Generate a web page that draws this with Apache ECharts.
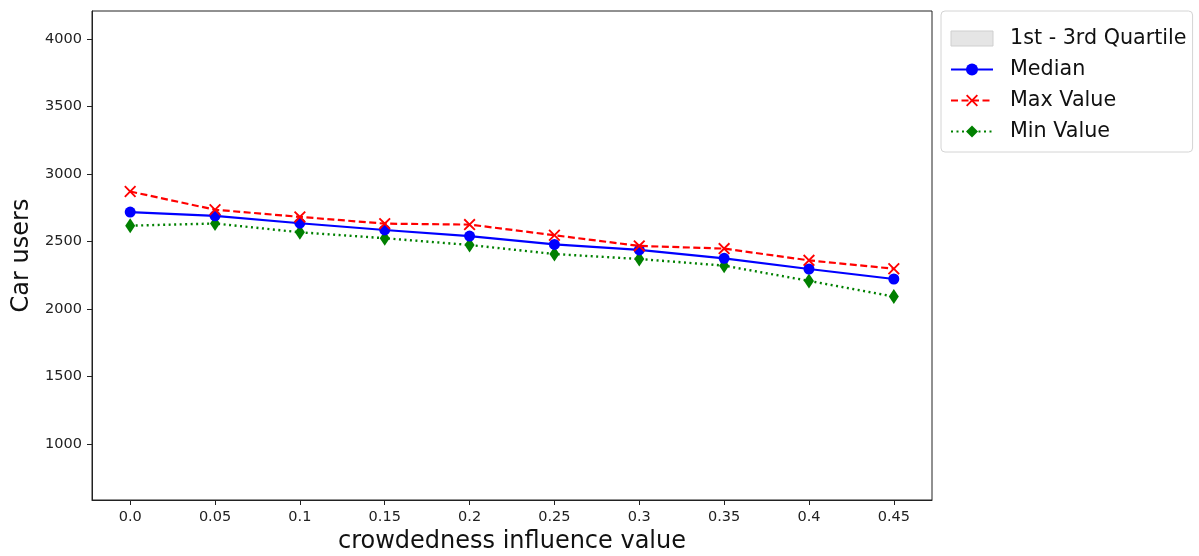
<!DOCTYPE html>
<html>
<head>
<meta charset="utf-8">
<script src="https://cdn.jsdelivr.net/npm/echarts@6/dist/echarts.min.js"></script>
<style>
  html, body { margin: 0; padding: 0; background: #fff; }
  #chart { width: 1199px; height: 556px; }
</style>
</head>
<body>
<div id="chart"></div>
<script>
// x ticks (crowdedness influence value)
var xLabels = ["0.0", "0.05", "0.1", "0.15", "0.2", "0.25", "0.3", "0.35", "0.4", "0.45"];
var yTicks = [1000, 1500, 2000, 2500, 3000, 3500, 4000];

var medianVals = [2718, 2690, 2635, 2585, 2540, 2478, 2437, 2375, 2296, 2222];
var maxVals = [2870, 2735, 2682, 2632, 2625, 2546, 2467, 2447, 2360, 2298];
var minVals = [2617, 2633, 2568, 2524, 2474, 2407, 2370, 2321, 2208, 2092];
var q1Vals = [2710, 2682, 2626, 2577, 2531, 2470, 2430, 2368, 2289, 2216];
var q3Vals = [2735, 2705, 2650, 2600, 2556, 2492, 2452, 2390, 2310, 2234];

var chart = echarts.init(document.getElementById("chart"));

function pts(arr) {
  return arr.map(function (v, i) { return [i, v]; });
}
var bandLow = pts(q1Vals);
var bandSpan = q3Vals.map(function (v, i) { return [i, v - q1Vals[i]]; });

var crossPath = "path://M0,1.1L1.1,0L5,3.9L8.9,0L10,1.1L6.1,5L10,8.9L8.9,10L5,6.1L1.1,10L0,8.9L3.9,5Z";
var fontFam = "DejaVu Sans";

var option = {
  animation: false,
  backgroundColor: "#fff",
  textStyle: { fontFamily: fontFam },
  grid: {
    left: 92,
    top: 11,
    right: 267,
    bottom: 56,
    outerBoundsMode: "none",
    containLabel: false,
    show: true,
    borderColor: "#222",
    borderWidth: 1
  },
  legend: {
    orient: "vertical",
    left: 941,
    top: 11,
    padding: [17, 6, 10, 9],
    itemGap: 10,
    itemWidth: 42,
    itemHeight: 15,
    borderColor: "#d4d4d4",
    borderWidth: 1,
    borderRadius: 4,
    textStyle: { fontSize: 20.7, color: "#111", padding: [0, 0, 0, 12], fontFamily: fontFam },
    data: [
      { name: "1st - 3rd Quartile", icon: "rect", itemStyle: { color: "#e5e5e5", borderColor: "#cfcfcf", borderWidth: 1 } },
      { name: "Median" },
      { name: "Max Value" },
      { name: "Min Value" }
    ]
  },
  xAxis: {
    type: "value",
    min: -0.45,
    max: 9.45,
    name: "crowdedness influence value",
    nameLocation: "middle",
    nameGap: 30,
    nameTextStyle: { fontSize: 24, color: "#111" },
    splitLine: { show: false },
    axisLine: { show: true, onZero: false, lineStyle: { color: "#222", width: 1 } },
    axisTick: { show: true, length: 5, lineStyle: { color: "#222" }, customValues: [0, 1, 2, 3, 4, 5, 6, 7, 8, 9] },
    axisLabel: {
      fontSize: 14.5,
      color: "#222",
      margin: 10,
      customValues: [0, 1, 2, 3, 4, 5, 6, 7, 8, 9],
      formatter: function (v) { return xLabels[Math.round(v)]; }
    }
  },
  yAxis: {
    type: "value",
    min: 585,
    max: 4207,
    name: "Car users",
    nameLocation: "middle",
    nameGap: 52,
    nameTextStyle: { fontSize: 24, color: "#111" },
    splitLine: { show: false },
    axisLine: { show: true, onZero: false, lineStyle: { color: "#222", width: 1 } },
    axisTick: { show: true, length: 5, lineStyle: { color: "#222" }, customValues: yTicks },
    axisLabel: {
      fontSize: 14.5,
      color: "#222",
      margin: 10,
      customValues: yTicks,
      formatter: function (v) { return String(v); }
    }
  },
  series: [
    {
      name: "bandBase",
      type: "line",
      stack: "band",
      data: bandLow,
      symbol: "none",
      lineStyle: { opacity: 0 },
      silent: true,
      z: 1
    },
    {
      name: "1st - 3rd Quartile",
      type: "line",
      stack: "band",
      data: bandSpan,
      symbol: "none",
      lineStyle: { opacity: 0 },
      areaStyle: { color: "rgba(128,128,128,0.25)", opacity: 1 },
      itemStyle: { color: "#e5e5e5" },
      silent: true,
      z: 1
    },
    {
      name: "Median",
      type: "line",
      data: pts(medianVals),
      symbol: "circle",
      symbolSize: 11,
      itemStyle: { color: "#0000ff" },
      lineStyle: { color: "#0000ff", width: 2.2 },
      z: 3
    },
    {
      name: "Max Value",
      type: "line",
      data: pts(maxVals),
      symbol: crossPath,
      symbolSize: 12,
      itemStyle: { color: "#ff0000" },
      lineStyle: { color: "#ff0000", width: 2.2, type: [7, 3.5] },
      z: 4
    },
    {
      name: "Min Value",
      type: "line",
      data: pts(minVals),
      symbol: "diamond",
      symbolSize: [10, 15],
      itemStyle: { color: "#008000" },
      lineStyle: { color: "#008000", width: 2.4, type: [2, 3.5] },
      z: 2
    }
  ]
};
chart.setOption(option);
</script>
</body>
</html>
